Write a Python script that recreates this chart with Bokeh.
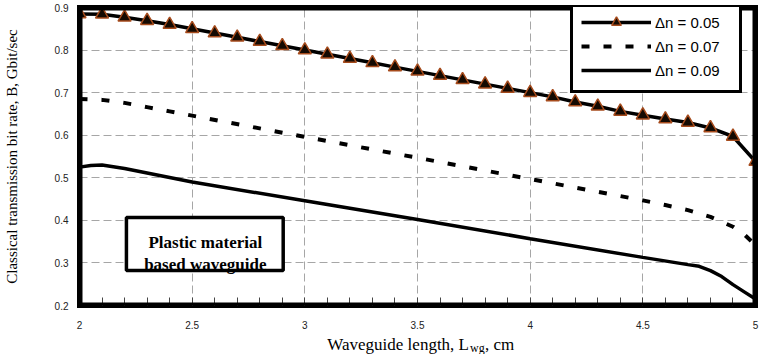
from bokeh.plotting import figure
from bokeh.models import Range1d, FixedTicker, Label, BoxAnnotation, LinearAxis
from bokeh.layouts import column
from bokeh.embed import file_html
from bokeh.resources import INLINE
import numpy as np

# ---------------- data ----------------
x_ticks = [2, 2.5, 3, 3.5, 4, 4.5, 5]
x_tick_labels = ["2", "2.5", "3", "3.5", "4", "4.5", "5"]
y_ticks = [0.2, 0.3, 0.4, 0.5, 0.6, 0.7, 0.8, 0.9]
y_tick_labels = ["0.2", "0.3", "0.4", "0.5", "0.6", "0.7", "0.8", "0.9"]

series_names = ["\u0394n = 0.05", "\u0394n = 0.07", "\u0394n = 0.09"]

x_005 = [2.0, 2.1, 2.2, 2.3, 2.4, 2.5, 2.6, 2.7, 2.8, 2.9, 3.0, 3.1, 3.2, 3.3, 3.4,
         3.5, 3.6, 3.7, 3.8, 3.9, 4.0, 4.1, 4.2, 4.3, 4.4, 4.5, 4.6, 4.7, 4.8, 4.9, 5.0]
y_005 = [0.885, 0.884, 0.877, 0.869, 0.860, 0.850, 0.840, 0.830, 0.820, 0.810, 0.800,
         0.790, 0.780, 0.770, 0.760, 0.750, 0.740, 0.730, 0.720, 0.710, 0.700, 0.690,
         0.678, 0.668, 0.656, 0.647, 0.638, 0.630, 0.617, 0.597, 0.538]

x_007 = [2.0, 2.1, 2.2, 2.3, 2.4, 2.5, 3.0, 3.5, 4.0, 4.5, 4.6, 4.7, 4.8, 4.9, 4.95, 5.0]
y_007 = [0.685, 0.683, 0.676, 0.666, 0.656, 0.646, 0.596, 0.547, 0.497, 0.447, 0.436,
         0.424, 0.408, 0.385, 0.367, 0.342]

x_009 = [2.0, 2.05, 2.1, 2.2, 2.5, 3.0, 3.5, 4.0, 4.5, 4.7, 4.75, 4.8, 4.85, 4.9, 4.95, 5.0]
y_009 = [0.525, 0.529, 0.530, 0.522, 0.490, 0.446, 0.402, 0.357, 0.313, 0.296, 0.292,
         0.282, 0.268, 0.249, 0.232, 0.215]

annotation_lines = ["Plastic material", "based waveguide"]
x_title_parts = ["Waveguide length, L", "wg", ", cm"]
y_title = "Classical transmission bit rate, B, Gbit/sec"

# ---------------- layout helpers ----------------
W = 776
H_MAIN, H_TITLE = 336, 18
FL, FR, FT, FB = 78, 755, 7, 305          # frame edges in pixels
X0, X1, Y0, Y1 = 2.0, 5.0, 0.2, 0.9


def px_x(px):
    return X0 + (px - FL) * (X1 - X0) / (FR - FL)


def px_y(py):
    return Y1 - (py - FT) * (Y1 - Y0) / (FB - FT)


p = figure(width=W, height=H_MAIN, x_range=Range1d(X0, X1), y_range=Range1d(Y0, Y1),
           output_backend="svg", toolbar_location=None,
           min_border_left=FL, min_border_right=W - FR,
           min_border_top=FT, min_border_bottom=H_MAIN - FB)
p.title.visible = False
p.background_fill_color = "white"
p.border_fill_color = "white"
p.outline_line_color = None

SANS = "Liberation Sans"
SERIF = "Liberation Serif"

# axes
xt = FixedTicker(ticks=x_ticks, minor_ticks=list(np.round(np.arange(2.0, 5.0001, 0.1), 2)))
yt = FixedTicker(ticks=y_ticks, minor_ticks=[])
p.xaxis.ticker = xt
p.yaxis.ticker = yt
p.xaxis.major_label_overrides = {t: l for t, l in zip(x_ticks, x_tick_labels)}
p.yaxis.major_label_overrides = {t: l for t, l in zip(y_ticks, y_tick_labels)}
for ax in (p.xaxis, p.yaxis):
    ax.axis_line_color = "black"
    ax.axis_line_width = 5
    ax.axis_line_cap = "square"
    ax.major_tick_line_color = None
    ax.major_label_text_font = SANS
    ax.major_label_text_font_size = "10px"
    ax.major_label_text_color = "#222222"
p.xaxis.minor_tick_in = 8
p.xaxis.minor_tick_out = 0
p.xaxis.minor_tick_line_color = "#444444"
p.xaxis.major_label_standoff = 9
p.yaxis.minor_tick_line_color = None
p.yaxis.major_label_standoff = 5

p.yaxis.axis_label = y_title
p.yaxis.axis_label_text_font = SERIF
p.yaxis.axis_label_text_font_style = "normal"
p.yaxis.axis_label_text_font_size = "15px"
p.yaxis.axis_label_text_color = "black"
p.yaxis.axis_label_standoff = 32

# thick frame on the remaining two sides
for side in ("right", "above"):
    ax = LinearAxis(ticker=FixedTicker(ticks=[]), axis_line_color="black",
                    axis_line_width=5, axis_line_cap="square",
                    major_tick_line_color=None, minor_tick_line_color=None,
                    major_label_text_font_size="0px")
    p.add_layout(ax, side)

# grid
p.xgrid.ticker = FixedTicker(ticks=x_ticks)
p.ygrid.ticker = FixedTicker(ticks=y_ticks)
for g in (p.xgrid, p.ygrid):
    g.grid_line_color = "#a6a6a6"
    g.grid_line_dash = "8 4"
    g.grid_line_width = 1

# annotation box background
box_fill = BoxAnnotation(left=px_x(125), right=px_x(282), top=px_y(217), bottom=px_y(270),
                         fill_color="white", fill_alpha=1.0, line_color=None)
p.add_layout(box_fill)

# series
p.line(x_005, y_005, line_color="black", line_width=3.5, legend_label=series_names[0])
p.scatter(x_005, y_005, marker="triangle", size=13, fill_color="#140a02",
          line_color="#a64b1c", line_width=1.5, legend_label=series_names[0])
p.line(x_007, y_007, line_color="black", line_width=4, line_dash="8 14",
       legend_label=series_names[1])
p.line(x_009, y_009, line_color="black", line_width=3.5, legend_label=series_names[2])

# inner half of the thick plot-area border
frame_border = BoxAnnotation(left=X0, right=X1, bottom=Y0, top=Y1, fill_alpha=0.0,
                             line_color="black", line_alpha=1.0, line_width=6)
p.add_layout(frame_border)

# annotation text and border
for txt, base in zip(annotation_lines, [242, 264]):
    p.add_layout(Label(x=px_x(204), y=px_y(base), text=txt, text_align="center",
                       text_baseline="alphabetic", text_font=SERIF,
                       text_font_style="bold", text_font_size="17px",
                       text_color="black"))
box_border = BoxAnnotation(left=px_x(125), right=px_x(282), top=px_y(217), bottom=px_y(270),
                           fill_alpha=0.0, line_color="black", line_alpha=1.0,
                           line_width=3.5)
p.add_layout(box_border)

# legend
lg = p.legend[0]
lg.location = (569 - FL, FB - 93)
lg.border_line_color = "black"
lg.border_line_width = 3
lg.border_line_alpha = 1.0
lg.background_fill_color = "white"
lg.background_fill_alpha = 1.0
lg.label_text_font = SANS
lg.label_text_font_size = "15px"
lg.label_text_color = "black"
lg.glyph_width = 70
lg.glyph_height = 24
lg.label_height = 24
lg.label_width = 76
lg.label_standoff = 4
lg.padding = 8
lg.spacing = 0
lg.margin = 0

# ---------------- x-axis title strip (with subscript) ----------------
t = figure(width=W, height=H_TITLE, x_range=p.x_range, y_range=Range1d(0, H_TITLE),
           output_backend="svg", toolbar_location=None,
           x_axis_type=None, y_axis_type=None,
           min_border_left=FL, min_border_right=W - FR,
           min_border_top=0, min_border_bottom=0)
t.title.visible = False
t.outline_line_color = None
t.grid.visible = False
t.background_fill_color = "white"
t.border_fill_color = "white"

main_w, sub_w, tail_w = 150, 15, 31
anchor = -(main_w + 1 + sub_w + tail_w) / 2 + main_w
xc = (X0 + X1) / 2
t.add_layout(Label(x=xc, y=10, x_offset=anchor, text=x_title_parts[0], text_align="right",
                   text_baseline="alphabetic", text_font=SERIF, text_font_size="17px",
                   text_color="black"))
t.add_layout(Label(x=xc, y=7, x_offset=anchor + 1, text=x_title_parts[1], text_align="left",
                   text_baseline="alphabetic", text_font=SERIF, text_font_size="12px",
                   text_color="black"))
t.add_layout(Label(x=xc, y=10, x_offset=anchor + 1 + sub_w, text=x_title_parts[2],
                   text_align="left", text_baseline="alphabetic", text_font=SERIF,
                   text_font_size="17px", text_color="black"))

layout = column(p, t, spacing=0)
open("out.html", "w").write(file_html(layout, INLINE))
